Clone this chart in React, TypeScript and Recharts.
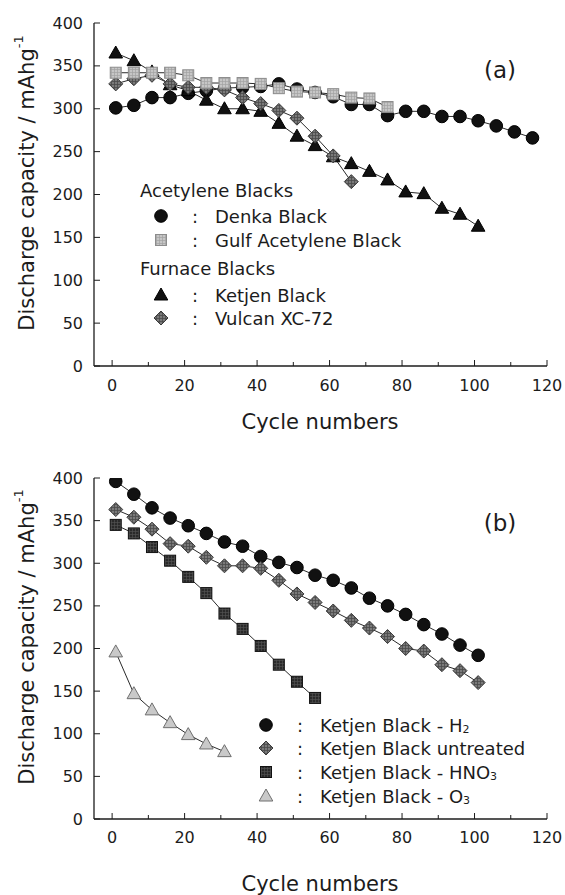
import { LineChart, Line, XAxis, YAxis } from "recharts";

const FONT = "'DejaVu Sans', Verdana, sans-serif";
const INK = "#1c1c1c";

// cycle numbers shared by every series (each series uses as many as it has values)
const cycles = [1, 6, 11, 16, 21, 26, 31, 36, 41, 46, 51, 56, 61, 66, 71, 76, 81, 86, 91, 96, 101, 106, 111, 116];
const xTicks = [0, 10, 20, 30, 40, 50, 60, 70, 80, 90, 100, 110, 120];
const yTicks = [0, 50, 100, 150, 200, 250, 300, 350, 400];

// (a) carbon blacks
const denka = [301, 304, 313, 313, 318, 321, 324, 325, 326, 329, 323, 319, 314, 305, 305, 292, 297, 297, 291, 291, 286, 280, 273, 266];
const gulf = [342, 342, 342, 342, 339, 330, 330, 330, 329, 324, 320, 319, 317, 313, 312, 302];
const ketjen = [365, 356, 343, 328, 321, 310, 300, 300, 297, 283, 268, 257, 244, 236, 227, 217, 203, 201, 184, 177, 163];
const vulcan = [329, 335, 339, 329, 325, 325, 322, 313, 306, 298, 289, 268, 245, 215];

// (b) treated Ketjen Black
const kbH2 = [396, 381, 365, 353, 344, 335, 325, 320, 308, 301, 295, 286, 280, 271, 259, 250, 240, 228, 217, 204, 192];
const kbUntreated = [363, 354, 340, 323, 320, 307, 297, 297, 294, 280, 264, 254, 244, 233, 224, 214, 200, 197, 181, 174, 160];
const kbHNO3 = [345, 335, 319, 303, 284, 265, 241, 223, 203, 181, 161, 142];
const kbO3 = [196, 147, 128, 113, 99, 88, 79];

type Kind = "circle" | "square" | "triangle" | "diamond";
type Look = { kind: Kind; fill: string; stroke: string };

const LOOK: Record<string, Look> = {
  blackCircle: { kind: "circle", fill: "#111", stroke: "#000" },
  greySquare: { kind: "square", fill: "url(#hatchLight)", stroke: "#8c8c8c" },
  blackTriangle: { kind: "triangle", fill: "#111", stroke: "#000" },
  greyDiamond: { kind: "diamond", fill: "url(#hatchMid)", stroke: "#3a3a3a" },
  darkSquare: { kind: "square", fill: "url(#hatchDark)", stroke: "#111" },
  lightTriangle: { kind: "triangle", fill: "#c9c9c9", stroke: "#6f6f6f" },
};

const Marker = ({ look, cx, cy }: { look: Look; cx: number; cy: number }) => {
  const { kind, fill, stroke } = look;
  if (kind === "circle") return <circle cx={cx} cy={cy} r={6.3} fill={fill} stroke={stroke} />;
  if (kind === "square")
    return <rect x={cx - 5.5} y={cy - 5.5} width={11} height={11} fill={fill} stroke={stroke} strokeWidth={1} />;
  if (kind === "triangle")
    return (
      <polygon
        points={`${cx},${cy - 7} ${cx - 6.8},${cy + 5} ${cx + 6.8},${cy + 5}`}
        fill={fill}
        stroke={stroke}
        strokeWidth={1}
      />
    );
  return (
    <polygon
      points={`${cx},${cy - 7} ${cx + 7},${cy} ${cx},${cy + 7} ${cx - 7},${cy}`}
      fill={fill}
      stroke={stroke}
      strokeWidth={1}
    />
  );
};

const toPoints = (vals: number[]) => vals.map((v, i) => ({ cycle: cycles[i], cap: v }));

const BottomTick = (labelDy: number) => (props: any) => {
  const { x, y, payload } = props;
  const major = payload.value % 20 === 0;
  return (
    <g>
      <line x1={x} x2={x} y1={y} y2={y - (major ? 6 : 4)} stroke={INK} strokeWidth={1} />
      {major && (
        <text x={x} y={y + labelDy} textAnchor="middle" dominantBaseline="central" fontFamily={FONT} fontSize={16} fill={INK}>
          {payload.value}
        </text>
      )}
    </g>
  );
};

const TopTick = (props: any) => (
  <line x1={props.x} x2={props.x} y1={props.y} y2={props.y + 6} stroke={INK} strokeWidth={1} />
);

const LeftTick = (props: any) => {
  const { x, y, payload } = props;
  return (
    <g>
      <line x1={x} x2={x + 6} y1={y} y2={y} stroke={INK} strokeWidth={1} />
      <text x={x - 11} y={y} textAnchor="end" dominantBaseline="central" fontFamily={FONT} fontSize={16} fill={INK}>
        {payload.value}
      </text>
    </g>
  );
};

const RightTick = (props: any) => (
  <line x1={props.x} x2={props.x - 6} y1={props.y} y2={props.y} stroke={INK} strokeWidth={1} />
);

type Series = { name: string; values: number[]; look: Look };

const Panel = ({ series, top, height, plotTop, bottomAxis, labelDy }: {
  series: Series[]; top: number; height: number; plotTop: number; bottomAxis: number; labelDy: number;
}) => (
  <div style={{ position: "absolute", left: 0, top }}>
    <LineChart width={565} height={height} margin={{ top: plotTop, right: 18, left: 0, bottom: 0 }}>
      <XAxis
        xAxisId="bottom"
        type="number"
        dataKey="cycle"
        domain={[-5, 120]}
        allowDataOverflow
        ticks={xTicks}
        interval={0}
        height={bottomAxis}
        tickSize={0}
        tickMargin={0}
        tickLine={false}
        tick={BottomTick(labelDy)}
        axisLine={{ stroke: INK, strokeWidth: 1.3 }}
      />
      <XAxis
        xAxisId="top"
        orientation="top"
        type="number"
        dataKey="cycle"
        domain={[-5, 120]}
        allowDataOverflow
        ticks={xTicks.slice(0, -1)}
        interval={0}
        height={0}
        tickSize={0}
        tickMargin={0}
        tickLine={false}
        tick={TopTick}
        axisLine={{ stroke: "#444", strokeWidth: 1.3 }}
      />
      <YAxis
        yAxisId="left"
        type="number"
        domain={[0, 400]}
        allowDataOverflow
        ticks={yTicks}
        interval={0}
        width={94}
        tickSize={0}
        tickMargin={0}
        tickLine={false}
        tick={LeftTick}
        axisLine={{ stroke: INK, strokeWidth: 1.3 }}
      />
      <YAxis
        yAxisId="right"
        orientation="right"
        type="number"
        domain={[0, 400]}
        allowDataOverflow
        ticks={yTicks.slice(1, -1)}
        interval={0}
        width={0}
        tickSize={0}
        tickMargin={0}
        tickLine={false}
        tick={RightTick}
        axisLine={{ stroke: INK, strokeWidth: 1.3 }}
      />
      {series.map((s) => (
        <Line
          key={s.name}
          name={s.name}
          data={toPoints(s.values)}
          xAxisId="bottom"
          yAxisId="left"
          dataKey="cap"
          type="linear"
          stroke="#2a2a2a"
          strokeWidth={1}
          activeDot={false}
          isAnimationActive={false}
          dot={(p: any) => <Marker key={p.index} look={s.look} cx={p.cx} cy={p.cy} />}
        />
      ))}
    </LineChart>
  </div>
);

const seriesA: Series[] = [
  { name: "Denka Black", values: denka, look: LOOK.blackCircle },
  { name: "Ketjen Black", values: ketjen, look: LOOK.blackTriangle },
  { name: "Vulcan XC-72", values: vulcan, look: LOOK.greyDiamond },
  { name: "Gulf Acetylene Black", values: gulf, look: LOOK.greySquare },
];

const seriesB: Series[] = [
  { name: "Ketjen Black - H2", values: kbH2, look: LOOK.blackCircle },
  { name: "Ketjen Black untreated", values: kbUntreated, look: LOOK.greyDiamond },
  { name: "Ketjen Black - HNO3", values: kbHNO3, look: LOOK.darkSquare },
  { name: "Ketjen Black - O3", values: kbO3, look: LOOK.lightTriangle },
];

const txt = { fontFamily: FONT, fill: INK } as const;

const LegendRow = ({ x, y, look, children }: { x: number; y: number; look: Look; children: any }) => (
  <g>
    <Marker look={look} cx={x} cy={y} />
    <text x={x + 34} y={y} {...txt} fontSize={18} textAnchor="middle" dominantBaseline="central">:</text>
    <text x={x + 54} y={y} {...txt} fontSize={18} dominantBaseline="central">{children}</text>
  </g>
);

const YTitle = ({ cx, cy }: { cx: number; cy: number }) => (
  <text x={cx} y={cy} transform={`rotate(-90 ${cx} ${cy})`} {...txt} fontSize={21} textAnchor="middle" dominantBaseline="central">
    Discharge capacity / mAhg<tspan fontSize={13} dy={-9}>-1</tspan>
  </text>
);

export default function App() {
  return (
    <div style={{ position: "absolute", left: 0, top: 0, width: 565, height: 895, background: "#fff" }}>
      <svg width={0} height={0} style={{ position: "absolute" }}>
        <defs>
          <pattern id="hatchLight" width={3} height={3} patternUnits="userSpaceOnUse">
            <rect width={3} height={3} fill="#c6c6c6" />
            <path d="M0 0.5 H3 M0.5 0 V3" stroke="#a2a2a2" strokeWidth={0.7} />
          </pattern>
          <pattern id="hatchMid" width={3} height={3} patternUnits="userSpaceOnUse">
            <rect width={3} height={3} fill="#7a7a7a" />
            <path d="M0 0.5 H3 M0.5 0 V3" stroke="#4a4a4a" strokeWidth={0.8} />
          </pattern>
          <pattern id="hatchDark" width={3} height={3} patternUnits="userSpaceOnUse">
            <rect width={3} height={3} fill="#2a2a2a" />
            <path d="M0 0.5 H3 M0.5 0 V3" stroke="#555" strokeWidth={0.6} />
          </pattern>
        </defs>
      </svg>

      <Panel series={seriesA} top={0} height={447} plotTop={23} bottomAxis={81} labelDy={19} />
      <Panel series={seriesB} top={447} height={448} plotTop={31} bottomAxis={76} labelDy={18} />

      <svg width={565} height={895} style={{ position: "absolute", left: 0, top: 0, pointerEvents: "none" }}>
        {/* panel (a) */}
        <YTitle cx={27} cy={183} />
        <text x={320} y={422} {...txt} fontSize={21} textAnchor="middle" dominantBaseline="central">Cycle numbers</text>
        <text x={500} y={70} {...txt} fontSize={23} textAnchor="middle" dominantBaseline="central">(a)</text>
        <text x={140} y={190} {...txt} fontSize={18} dominantBaseline="central">Acetylene Blacks</text>
        <LegendRow x={161} y={216} look={LOOK.blackCircle}>Denka Black</LegendRow>
        <LegendRow x={161} y={240} look={LOOK.greySquare}>Gulf Acetylene Black</LegendRow>
        <text x={140} y={268} {...txt} fontSize={18} dominantBaseline="central">Furnace Blacks</text>
        <LegendRow x={161} y={295} look={LOOK.blackTriangle}>Ketjen Black</LegendRow>
        <LegendRow x={161} y={318} look={LOOK.greyDiamond}>Vulcan XC-72</LegendRow>

        {/* panel (b) */}
        <YTitle cx={27} cy={637} />
        <text x={320} y={884} {...txt} fontSize={21} textAnchor="middle" dominantBaseline="central">Cycle numbers</text>
        <text x={500} y={523} {...txt} fontSize={23} textAnchor="middle" dominantBaseline="central">(b)</text>
        <LegendRow x={266} y={725} look={LOOK.blackCircle}>
          Ketjen Black - H<tspan fontSize={11} dy={4}>2</tspan>
        </LegendRow>
        <LegendRow x={266} y={748} look={LOOK.greyDiamond}>Ketjen Black untreated</LegendRow>
        <LegendRow x={266} y={772} look={LOOK.darkSquare}>
          Ketjen Black - HNO<tspan fontSize={11} dy={4}>3</tspan>
        </LegendRow>
        <LegendRow x={266} y={796} look={LOOK.lightTriangle}>
          Ketjen Black - O<tspan fontSize={11} dy={4}>3</tspan>
        </LegendRow>
      </svg>
    </div>
  );
}
